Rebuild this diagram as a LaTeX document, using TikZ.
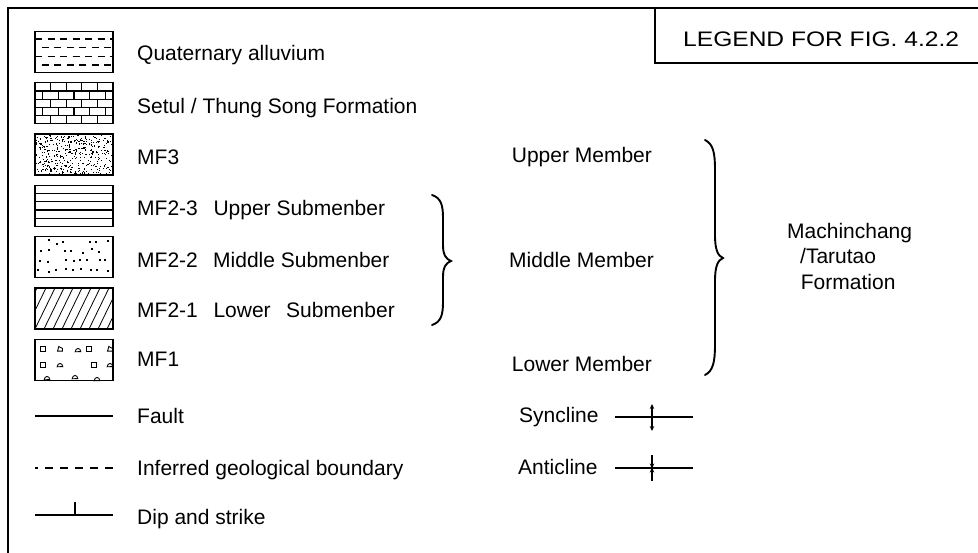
\documentclass[tikz,border=0pt]{standalone}
\usepackage{fontspec}
\setmainfont{Liberation Sans}
\usetikzlibrary{arrows.meta}
\begin{document}
\begin{tikzpicture}[x=1pt,y=-1pt,
  frame/.style={line width=1.8pt},
  swatch/.style={draw,line width=1.3pt,minimum width=78pt,minimum height=41pt,inner sep=0pt},
  lbl/.style={font=\fontsize{21}{25}\selectfont,inner sep=0pt,anchor=base west},
  pat/.style={line width=1.2pt},
  brace/.style={line width=1.9pt,line cap=round},
  sym/.style={line width=1.5pt},
  fold/.style={line width=1.2pt,-{Stealth[length=5pt,width=4.5pt]}}]
\useasboundingbox (0,0) rectangle (978,553);
% outer frame and title box
\draw[frame] (8,553) -- (8,8) -- (978,8);
\draw[frame] (655,8) -- (655,63) -- (978,63);
\node[lbl] (title) at (683,46.7) {\scalebox{1.17}[1]{LEGEND FOR FIG. 4.2.2}};

% swatches
\node[swatch] (q)   at (74,52.0)  {};
\node[swatch] (s)   at (74,103.3) {};
\node[swatch] (m3)  at (74,154.6) {};
\node[swatch] (m23) at (74,205.9) {};
\node[swatch] (m22) at (74,257.2) {};
\node[swatch] (m21) at (74,308.5) {};
\node[swatch] (m1)  at (74,359.8) {};

% Quaternary alluvium: dashes
\begin{scope}
\clip (35,31.5) rectangle (113,72.5);
\foreach \r/\off in {0/0,1/-6,2/0,3/-6}{
  \draw[pat,dash pattern=on 7pt off 5.5pt] (35+\off,39+\r*8.7) -- (120,39+\r*8.7);
}
\end{scope}

% Setul: bricks
\begin{scope}
\clip (35,82.8) rectangle (113,123.8);
\foreach \r in {1,...,4}{ \draw[pat] (35,82.8+\r*8.2) -- (113,82.8+\r*8.2); }
\foreach \r in {0,...,4}{
  \pgfmathsetmacro\sh{mod(\r,2)*7.8}
  \foreach \k in {0,...,5}{
    \draw[pat] (35+\sh+\k*15.6,82.8+\r*8.2) -- ++(0,8.2);
  }
}
\end{scope}

% MF3: fine stipple
\pgfmathsetseed{7}
\begin{scope}
\clip (35.8,134.9) rectangle (112.2,174.3);
\foreach \i in {1,...,400}{
  \pgfmathsetmacro\rx{35.8+76.4*rnd}
  \pgfmathsetmacro\ry{134.9+39.4*rnd}
  \fill (\rx,\ry) rectangle ++(1.1,1.1);
}
\end{scope}

% MF2-3: horizontal lines
\foreach \r in {1,...,4}{ \draw[pat,line width=1.3pt] (35,185.4+\r*8.2) -- (113,185.4+\r*8.2); }

% MF2-2: sparse dots on a jittered grid
\pgfmathsetseed{21}
\foreach \r in {0,...,3}{
  \foreach \k in {0,...,8}{
    \pgfmathsetmacro\rx{38.5+\k*8.4+5*rnd-2.5}
    \pgfmathsetmacro\ry{241+\r*9.3+4*rnd-2}
    \pgfmathsetmacro\keep{rnd}
    \ifdim\keep pt<0.8pt \fill (\rx,\ry) rectangle ++(2,2); \fi
  }
}

% MF2-1: diagonal hatching
\begin{scope}
\clip (35,288) rectangle (113,329);
\foreach \k in {-3,...,9}{ \draw[line width=0.8pt] (35+\k*9,329) -- ++(20,-41); }
\end{scope}

% MF1: conglomerate fragments
\foreach \px/\py in {43/349,89/349,43/365,94/365}{ \draw[line width=0.9pt] (\px-2.2,\py-2.2) rectangle (\px+2.2,\py+2.2); }
\foreach \px/\py in {60/349,110/349}{ \draw[line width=0.9pt] (\px-2.5,\py+2.2) -- (\px-1.2,\py-2.5) -- (\px+2.5,\py-0.5) -- (\px+2.5,\py+2.2) -- cycle; }
\foreach \px/\py in {78/350,60/365,110/365,47/378,75/377,97/379}{ \draw[line width=0.9pt] (\px-2.8,\py+1.8) .. controls (\px-2.5,\py-2.6) and (\px+2.5,\py-2.6) .. (\px+2.8,\py+1.6) -- cycle; }

% line symbols
\coordinate (fa1) at (35,416); \coordinate (fa2) at (113,416);
\draw[sym] (fa1) -- (fa2);
\coordinate (ib1) at (35,468); \coordinate (ib2) at (113,468);
\draw[sym,dash pattern=on 8pt off 7pt,dash phase=5pt] (ib1) -- (ib2);
\coordinate (ds1) at (35,515); \coordinate (ds2) at (113,515); \coordinate (dst) at (75,502);
\draw[sym] (ds1) -- (ds2);
\draw[sym] (dst) -- (dst |- ds1);

% left labels
\node[lbl] (tq)   at (137,60.7)  {Quaternary alluvium};
\node[lbl] (ts)   at (137,114)   {Setul / Thung Song Formation};
\node[lbl] (tm3)  at (137,165)   {MF3};
\node[lbl] (tm23) at (137,216)   {MF2-3};
\node[lbl] (tm23b) at (213.3,216) {Upper Submenber};
\node[lbl] (tm22) at (137,267.7) {MF2-2};
\node[lbl] (tm22b) at (213,267.7) {Middle Submenber};
\node[lbl] (tm21) at (137,318)   {MF2-1};
\node[lbl] (tm21b) at (213.3,318) {Lower};
\node[lbl] (tm21c) at (286,318)  {Submenber};
\node[lbl] (tm1)  at (137,367)   {MF1};
\node[lbl] (tfa)  at (137,423.5) {Fault};
\node[lbl] (tib)  at (137,475.5) {Inferred geological boundary};
\node[lbl] (tds)  at (137,524)   {Dip and strike};

% small brace
\draw[brace] (432,195) .. controls (441,198) and (443,205) .. (443,218) -- (443,245)
  .. controls (443,255) and (446,259) .. (451,261)
  .. controls (446,263) and (443,267) .. (443,277) -- (443,302)
  .. controls (443,315) and (441,322) .. (432,325);

% members
\node[lbl] (up)  at (511.7,162.7) {Upper Member};
\node[lbl] (mid) at (509,268)     {Middle Member};
\node[lbl] (low) at (511.7,371.7) {Lower Member};

% big brace
\draw[brace] (705,140) .. controls (713,144) and (715,152) .. (715,170) -- (715,235)
  .. controls (715,250) and (718,256) .. (723,258)
  .. controls (718,260) and (715,266) .. (715,281) -- (715,345)
  .. controls (715,362) and (713,371) .. (705,375);

\node[lbl] (f1) at (787,238.3) {Machinchang};
\node[lbl] (f2) at (800,263.5) {/Tarutao};
\node[lbl] (f3) at (800.7,290) {Formation};

% syncline / anticline
\node[lbl] (tsy) at (519,422.7) {Syncline};
\coordinate (sy1) at (615,417); \coordinate (sy2) at (693,417); \coordinate (syc) at (652,417);
\draw[sym,line width=1.3pt] (sy1) -- (sy2);
\coordinate (syt) at (652,404); \coordinate (syb) at (652,431);
\draw[fold] (syc) -- (syt);
\draw[fold] (syc) -- (syb);

\node[lbl] (tan) at (518,475) {Anticline};
\coordinate (an1) at (615,468); \coordinate (an2) at (693,468); \coordinate (anc) at (652,468);
\draw[sym,line width=1.3pt] (an1) -- (an2);
\coordinate (ant) at (652,455); \coordinate (anb) at (652,481);
\draw[fold] (ant) -- ([yshift=-0.5pt]anc);
\draw[fold] (anb) -- ([yshift=0.5pt]anc);
\end{tikzpicture}
\end{document}
